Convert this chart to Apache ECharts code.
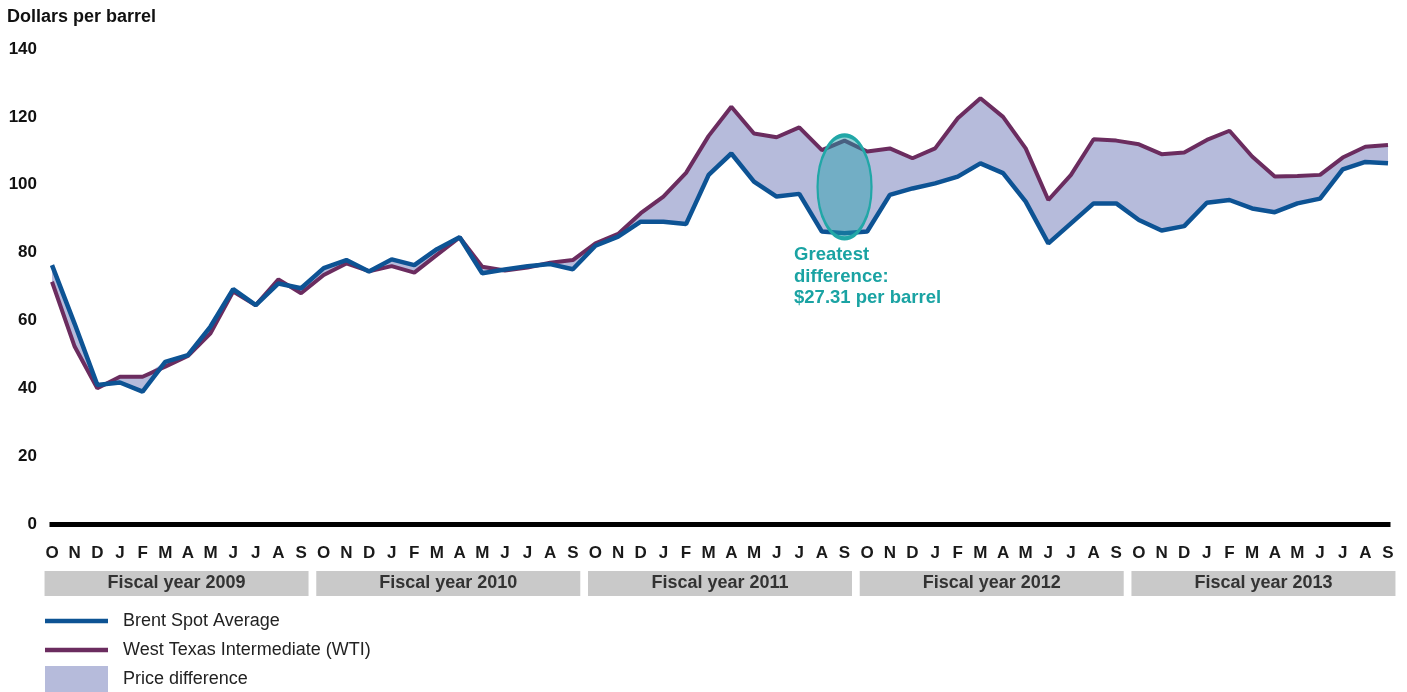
<!DOCTYPE html>
<html><head><meta charset="utf-8">
<script src="https://cdn.jsdelivr.net/npm/echarts@6/dist/echarts.min.js"></script>
<style>html,body{margin:0;padding:0;background:#fff}#c{width:1407px;height:692px}</style>
</head><body><div id="c"></div>
<script>
const monthInitials = ['O','N','D','J','F','M','A','M','J','J','A','S'];
const fiscalYears = ['Fiscal year 2009','Fiscal year 2010','Fiscal year 2011','Fiscal year 2012','Fiscal year 2013'];
const months = [];
fiscalYears.forEach((fy, i) => monthInitials.forEach((m, j) => months.push(m + '|' + i + '-' + j)));

const brent = [76.3, 59.0, 41.0, 41.7, 39.0, 47.8, 49.8, 58.2, 69.2, 64.5, 70.9, 69.5,
  75.4, 77.8, 74.4, 78.0, 76.3, 81.0, 84.5, 73.9, 75.0, 76.0, 76.6, 75.1,
  82.0, 84.7, 89.1, 89.1, 88.4, 102.9, 109.2, 100.9, 96.5, 97.3, 86.2, 85.7,
  86.2, 97.0, 98.9, 100.4, 102.4, 106.3, 103.4, 95.0, 82.7, 88.6, 94.5, 94.5,
  89.6, 86.5, 87.8, 94.7, 95.5, 93.0, 91.9, 94.5, 95.9, 104.5, 106.7, 106.3];
const wti = [71.4, 52.3, 40.0, 43.4, 43.4, 46.4, 49.5, 56.2, 68.5, 64.5, 72.1, 68.0,
  73.4, 76.8, 74.5, 76.0, 74.1, 79.3, 84.5, 75.8, 74.7, 75.6, 77.0, 77.8,
  82.7, 85.5, 91.6, 96.5, 103.5, 114.4, 123.0, 115.1, 114.0, 116.9, 110.2, 113.0,
  109.8, 110.7, 107.8, 110.7, 119.6, 125.5, 120.0, 110.7, 95.5, 102.9, 113.4, 113.0,
  111.9, 109.0, 109.5, 113.2, 115.9, 108.3, 102.4, 102.6, 102.9, 108.0, 111.2, 111.7];

const annotationIndex = 35;
const annotationText = 'Greatest\ndifference:\n$27.31 per barrel';
const annotationTextY = 82.3;

const lower = brent.map((b, i) => Math.min(b, wti[i]));
const gap = brent.map((b, i) => Math.abs(wti[i] - b));

const BLUE = '#0d5394', PURPLE = '#6b2c5f', FILL = '#b6bbdb', TEAL = '#1aa3a3';
const FONT = '"Liberation Sans", Arial, sans-serif';

const chart = echarts.init(document.getElementById('c'), null, {renderer: 'canvas'});
chart.setOption({
  animation: false,
  textStyle: {fontFamily: FONT},
  title: {text: 'Dollars per barrel', left: 7, top: 8, padding: 0,
    textStyle: {fontFamily: FONT, fontSize: 18, fontWeight: 'bold', color: '#111'}},
  legend: [{
    orient: 'vertical', left: 45, top: 611, padding: 0, itemGap: 9,
    itemWidth: 63, itemHeight: 4.5,
    textStyle: {fontFamily: FONT, fontSize: 18, color: '#222', lineHeight: 20, padding: [0, 0, 0, 10]},
    data: [
      {name: 'Brent Spot Average', icon: 'rect', itemStyle: {color: BLUE, borderWidth: 0}},
      {name: 'West Texas Intermediate (WTI)', icon: 'rect', itemStyle: {color: PURPLE, borderWidth: 0}}
    ]
  }, {
    orient: 'vertical', left: 45, top: 666, padding: 0,
    itemWidth: 63, itemHeight: 26,
    textStyle: {fontFamily: FONT, fontSize: 18, color: '#222', padding: [2, 0, 0, 10]},
    data: [{name: 'Price difference', icon: 'rect', itemStyle: {color: FILL, borderWidth: 0}}]
  }],
  grid: [
    {left: 52, right: 19, top: 49, bottom: 168},
    {left: 40.68, right: 7.68, top: 569, height: 1}
  ],
  xAxis: [{
    type: 'category', data: months, boundaryGap: false, gridIndex: 0,
    axisLine: {lineStyle: {color: '#000', width: 5, cap: 'square'}},
    axisTick: {show: false},
    splitLine: {show: false},
    axisLabel: {interval: 0, margin: 21, fontFamily: FONT, fontSize: 17, fontWeight: 'bold', color: '#1a1a1a',
      formatter: v => v.split('|')[0]}
  }, {
    type: 'category', data: fiscalYears, boundaryGap: true, gridIndex: 1,
    axisLine: {show: false}, axisTick: {show: false}, splitLine: {show: false},
    axisLabel: {interval: 0, margin: 1, fontFamily: FONT, fontSize: 18, fontWeight: 'bold', color: '#333',
      backgroundColor: '#c9c9c9', width: 264, height: 25, lineHeight: 25, align: 'center', padding: 0}
  }],
  yAxis: [{
    type: 'value', min: 0, max: 140, interval: 20, gridIndex: 0,
    axisLine: {show: false}, axisTick: {show: false}, splitLine: {show: false},
    axisLabel: {margin: 15, fontFamily: FONT, fontSize: 17, fontWeight: 'bold', color: '#111'}
  }, {
    type: 'value', gridIndex: 1, show: false
  }],
  series: [{
    name: 'base', type: 'line', stack: 'gap', data: lower, symbol: 'none', silent: true,
    lineStyle: {width: 0, opacity: 0}, z: 1
  }, {
    name: 'Price difference', type: 'line', stack: 'gap', data: gap, symbol: 'none', silent: true,
    color: FILL, lineStyle: {width: 0, opacity: 0}, areaStyle: {color: FILL, opacity: 1}, z: 1
  }, {
    name: 'West Texas Intermediate (WTI)', type: 'line', data: wti, symbol: 'none',
    color: PURPLE, lineStyle: {color: PURPLE, width: 4}, z: 3
  }, {
    name: 'Brent Spot Average', type: 'line', data: brent, symbol: 'none',
    color: BLUE, lineStyle: {color: BLUE, width: 4.5}, z: 4
  }, {
    name: 'annotation', type: 'line', data: [], z: 6, silent: true,
    markPoint: {
      silent: true,
      data: [{
        coord: [months[annotationIndex], (brent[annotationIndex] + wti[annotationIndex]) / 2],
        symbol: 'circle', symbolSize: [54, 103],
        itemStyle: {color: 'rgba(32,160,170,0.45)', borderColor: '#21a7a7', borderWidth: 3},
        label: {show: false}
      }, {
        coord: [months[annotationIndex], annotationTextY],
        symbol: 'rect', symbolSize: 1, itemStyle: {color: 'rgba(0,0,0,0)'},
        label: {show: true, position: [-50, 0], formatter: annotationText,
          fontFamily: FONT, fontSize: 18.5, fontWeight: 'bold', color: TEAL, lineHeight: 21.5, align: 'left'}
      }]
    }
  }]
});
</script></body></html>
